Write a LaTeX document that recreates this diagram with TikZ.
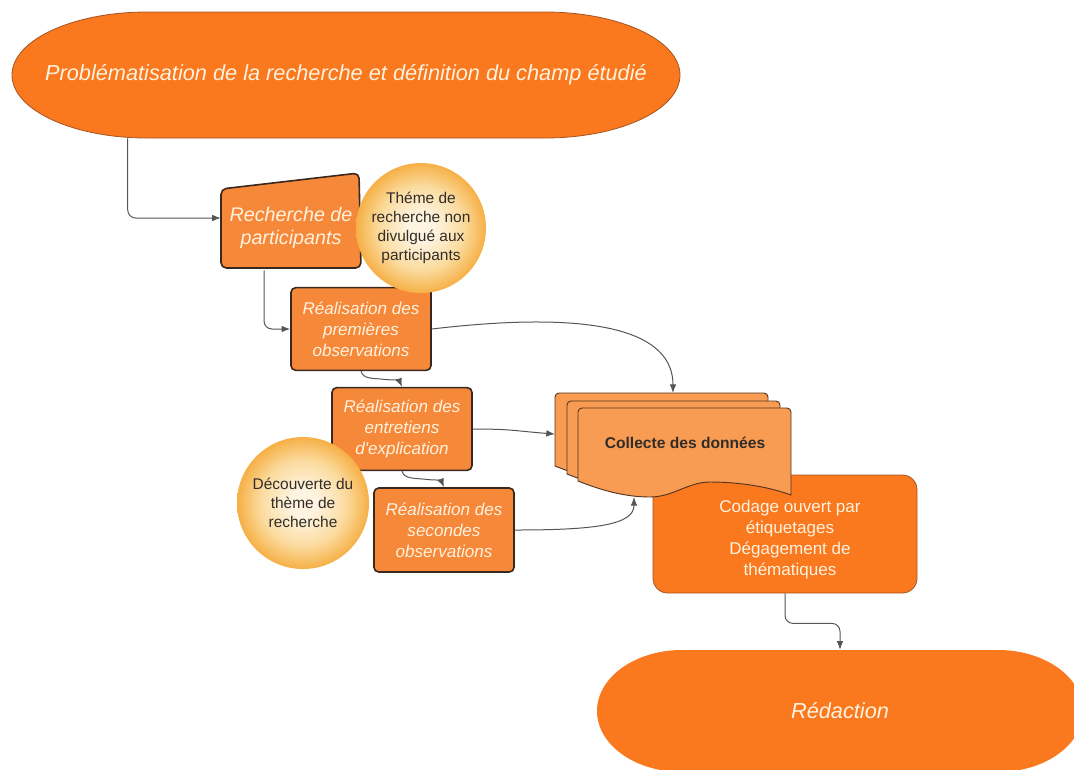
\documentclass[tikz,border=0pt]{standalone}
\usepackage{fontspec}
\setmainfont{Liberation Sans}[Ligatures=TeXOff]
\usetikzlibrary{arrows.meta,calc}

\definecolor{orangevif}{RGB}{250,120,30}
\definecolor{orangebox}{RGB}{246,136,58}
\definecolor{orangedoc}{RGB}{248,156,84}
\definecolor{creme}{RGB}{255,242,222}
\definecolor{bordfonce}{RGB}{58,40,30}
\definecolor{bordclair}{RGB}{165,85,35}
\definecolor{flechegris}{RGB}{85,85,85}
\definecolor{bulleint}{RGB}{254,244,226}
\definecolor{bullemid}{RGB}{251,220,160}
\definecolor{bulleext}{RGB}{246,176,70}
\definecolor{textgris}{RGB}{50,45,40}

\pgfdeclareradialshading{bullegrad}{\pgfpointorigin}{color(0bp)=(bulleint); color(5bp)=(bulleint); color(16bp)=(bullemid); color(25bp)=(bulleext); color(100bp)=(bulleext)}

\begin{document}
\begin{tikzpicture}[x=0.75pt,y=0.75pt,yscale=-1,xscale=1,
  termshape/.style={fill=orangevif, draw=bordclair, line width=0.6pt},
  termtext/.style={text=creme, align=center, font=\itshape\fontsize{16.3}{19}\selectfont},
  saisie/.style={fill=orangebox, draw=bordfonce, line width=1.2pt, rounded corners=4pt},
  stepbox/.style={rectangle, rounded corners=3.5pt, draw=bordfonce, line width=1.2pt, fill=orangebox, text=creme, align=center, inner sep=0pt, font=\itshape\fontsize{12.8}{15.75}\selectfont, minimum width=105pt, minimum height=62pt},
  codebox/.style={rectangle, rounded corners=11pt, fill=orangevif, draw=bordclair, line width=0.6pt, minimum width=198pt, minimum height=88.5pt},
  codetext/.style={text=creme, align=center, font=\fontsize{12.8}{15.75}\selectfont},
  docshape/.style={fill=orangedoc, draw=bordfonce!85!orangevif, line width=0.7pt},
  bulle/.style={circle, shade, shading=bullegrad, inner sep=0pt, align=center, text=textgris, font=\fontsize{11.6}{14.25}\selectfont},
  flow/.style={draw=flechegris, line width=0.75pt, -{Latex[length=6.5pt,width=5pt]}},
]
\useasboundingbox (0,0) rectangle (1074,769);

% debut : problematisation
\draw[termshape] (147,12) -- (545,12) arc[start angle=-90,end angle=90,x radius=135,y radius=63] -- (147,138) arc[start angle=90,end angle=270,x radius=135,y radius=63] -- cycle;
\node[termtext, minimum width=501pt, minimum height=94.5pt] (probleme) at (346,75) {Problématisation de la recherche et définition du champ étudié};

% recherche de participants
\draw[saisie] (221,268) -- (221,189) -- (359,173) -- (361,268) -- cycle;
\node[text=creme, align=center, inner sep=0pt, minimum width=105pt, minimum height=63pt, font=\itshape\fontsize{14.8}{17.25}\selectfont] (recherche) at (291,228) {Recherche de\\participants};

% terrain
\node[stepbox] (premieres) at (361,329) {Réalisation des\\premières\\observations};
\node[stepbox] (entretiens) at (402,429) {Réalisation des\\entretiens\\d'explication};
\node[stepbox, minimum height=63pt] (secondes) at (444,530) {Réalisation des\\secondes\\observations};

% analyse
\node[codebox] (codage) at (785,534) {};
\node[codetext] (codagetexte) at (790,540) {Codage ouvert par\\étiquetages\\Dégagement de\\thématiques};

\foreach \dx/\dy in {0/0,12/8,23/15}
  \draw[docshape, shift={(\dx,\dy)}] (555,466) [rounded corners=3pt] -- (555,393) -- (768,393) [sharp corners] -- (768,480) .. controls (738,469) and (705,467) .. (687,467) .. controls (665,467) and (650,482) .. (627,482) .. controls (600,482) and (575,474) .. (555,466) -- cycle;
\node[text=textgris, font=\bfseries\fontsize{11.7}{14}\selectfont] (collecte) at (685,443) {Collecte des données};
\coordinate (pilehaut) at (673,393);
\coordinate (pilegauche) at (555,434);
\coordinate (pilebas) at (634,497);

% bulles
\node[bulle, minimum size=97.5pt] (theme) at (421,228) {Théme de\\recherche non\\divulgué aux\\participants};
\node[bulle, minimum size=99pt] (decouverte) at (303,503) {Découverte du\\thème de\\recherche};

% fin : redaction
\fill[orangevif] (682,650) -- (998,650) arc[start angle=-90,end angle=90,x radius=85,y radius=61] -- (682,772) arc[start angle=90,end angle=270,x radius=85,y radius=61] -- cycle;
\node[termtext, minimum width=364.5pt, minimum height=91.5pt] (redaction) at (840,711) {Rédaction};

% liens
\draw[flow, rounded corners=6pt] ($(probleme.south west)+(116,0)$) |- ($(recherche.west)+(0,-10)$);
\draw[flow, rounded corners=6pt] ($(recherche.south)+(-27,0)$) |- (premieres.west);
\draw[flow] (premieres.east) .. controls +(170,-20) and +(0,-60) .. (pilehaut);
\draw[flow] (premieres.south) .. controls +(2,8) and +(-9,-1) .. ($(premieres.south)+(21,8)$) .. controls +(7,1) and +(-3,-7) .. (entretiens.north);
\draw[flow] (entretiens.south) .. controls +(2,8) and +(-9,-1) .. ($(entretiens.south)+(22,8)$) .. controls +(8,1) and +(-3,-7) .. (secondes.north);
\draw[flow] (entretiens.east) .. controls +(40,0) and +(-40,-3) .. (pilegauche);
\draw[flow] (secondes.east) .. controls +(80,0) and +(0,28) .. (pilebas);
\draw[flow, rounded corners=6pt] (codage.south) -- ++(0,30) -| (redaction.north);

\end{tikzpicture}
\end{document}
